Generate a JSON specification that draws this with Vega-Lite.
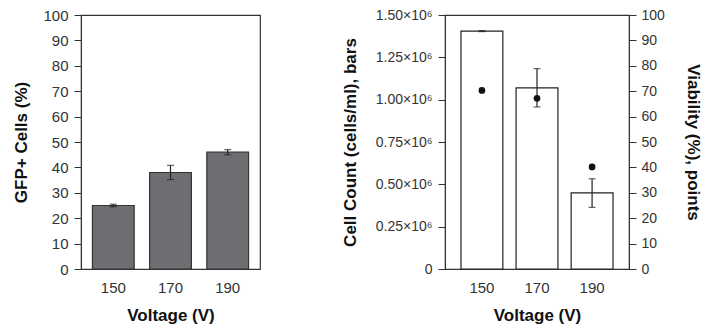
{
  "$schema": "https://vega.github.io/schema/vega-lite/v6.json",
  "padding": {"left": 12, "top": 7, "right": 5, "bottom": 0},
  "autosize": {"type": "pad"},
  "spacing": 79,
  "config": {
    "font": "Liberation Sans",
    "view": {"stroke": "#333", "strokeWidth": 1.2},
    "axis": {
      "grid": false,
      "domainColor": "#333",
      "tickColor": "#333",
      "tickSize": 7,
      "labelOverlap": false,
      "labelFont": "Liberation Sans",
      "labelFontSize": 15,
      "labelColor": "#333",
      "titleFont": "Liberation Sans",
      "titleFontSize": 17,
      "titleFontWeight": "bold",
      "titleColor": "#111"
    }
  },
  "datasets": {
    "gfp": [
      {"voltage": "150", "gfp": 25, "lo": 24.5, "hi": 25.5},
      {"voltage": "170", "gfp": 38, "lo": 35.2, "hi": 40.8},
      {"voltage": "190", "gfp": 46, "lo": 45.0, "hi": 47.0}
    ],
    "cells": [
      {"voltage": "150", "count": 1405000, "lo": 1402000, "hi": 1408000, "viability": 70.3},
      {"voltage": "170", "count": 1070000, "lo": 957000, "hi": 1183000, "viability": 67.2},
      {"voltage": "190", "count": 450000, "lo": 364000, "hi": 533000, "viability": 40.2}
    ]
  },
  "hconcat": [
    {
      "width": 179,
      "height": 254,
      "data": {"name": "gfp"},
      "encoding": {
        "x": {
          "field": "voltage", "type": "ordinal",
          "scale": {"paddingInner": 0.27, "paddingOuter": 0.2},
          "axis": {"title": "Voltage (V)", "labelAngle": 0, "ticks": false, "labelPadding": 11, "titlePadding": 12}
        },
        "y": {
          "field": "gfp", "type": "quantitative",
          "scale": {"domain": [0, 100], "nice": false},
          "axis": {"title": "GFP+ Cells (%)", "values": [0,10,20,30,40,50,60,70,80,90,100], "labelOverlap": false, "labelPadding": 6, "titlePadding": 12}
        }
      },
      "layer": [
        {
          "mark": {"type": "bar", "color": "#6d6e71", "stroke": "#333", "strokeWidth": 1.2}
        },
        {
          "mark": {"type": "rule", "color": "#222", "strokeWidth": 1.2},
          "encoding": {"y": {"field": "lo", "type": "quantitative"}, "y2": {"field": "hi"}}
        },
        {
          "mark": {"type": "tick", "color": "#222", "size": 7, "thickness": 1.2},
          "encoding": {"y": {"field": "lo", "type": "quantitative"}}
        },
        {
          "mark": {"type": "tick", "color": "#222", "size": 7, "thickness": 1.2},
          "encoding": {"y": {"field": "hi", "type": "quantitative"}}
        }
      ]
    },
    {
      "width": 184,
      "height": 254,
      "data": {"name": "cells"},
      "encoding": {
        "x": {
          "field": "voltage", "type": "ordinal",
          "scale": {"paddingInner": 0.24, "paddingOuter": 0.29},
          "axis": {"title": "Voltage (V)", "labelAngle": 0, "ticks": false, "labelPadding": 11, "titlePadding": 12}
        }
      },
      "layer": [
        {
          "encoding": {
            "y": {
              "field": "count", "type": "quantitative",
              "scale": {"domain": [0, 1500000], "nice": false},
              "axis": {
                "title": "Cell Count (cells/ml), bars",
                "values": [0, 250000, 500000, 750000, 1000000, 1250000, 1500000],
                "labelExpr": "datum.value == 0 ? '0' : format(datum.value / 1000000, '.2f') + '×10⁶'",
                "labelFontSize": 14,
                "labelPadding": 6,
                "titlePadding": 16
              }
            }
          },
          "layer": [
            {
              "mark": {"type": "bar", "color": "white", "stroke": "#222", "strokeWidth": 1.2}
            },
            {
              "mark": {"type": "rule", "color": "#222", "strokeWidth": 1.2},
              "encoding": {"y": {"field": "lo", "type": "quantitative"}, "y2": {"field": "hi"}}
            },
            {
              "mark": {"type": "tick", "color": "#222", "size": 7, "thickness": 1.2},
              "encoding": {"y": {"field": "lo", "type": "quantitative"}}
            },
            {
              "mark": {"type": "tick", "color": "#222", "size": 7, "thickness": 1.2},
              "encoding": {"y": {"field": "hi", "type": "quantitative"}}
            }
          ]
        },
        {
          "mark": {"type": "point", "filled": true, "color": "#111", "size": 45, "opacity": 1},
          "encoding": {
            "y": {
              "field": "viability", "type": "quantitative",
              "scale": {"domain": [0, 100], "nice": false},
              "axis": {
                "orient": "right",
                "title": "Viability (%), points",
                "values": [0,10,20,30,40,50,60,70,80,90,100],
                "labelFontSize": 14,
                "labelPadding": 5,
                "titlePadding": 19
              }
            }
          }
        }
      ],
      "resolve": {"scale": {"y": "independent"}}
    }
  ]
}
